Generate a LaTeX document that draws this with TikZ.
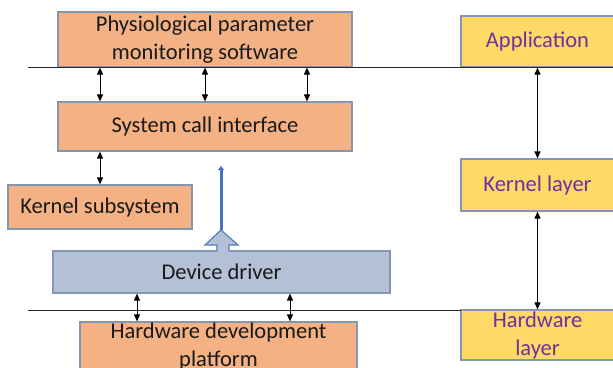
\documentclass[tikz,border=0pt]{standalone}
\usepackage{fontspec}
\setmainfont{Carlito}
\usetikzlibrary{arrows.meta}
\definecolor{ofill}{HTML}{F4B183}
\definecolor{yfill}{HTML}{FFD966}
\definecolor{bfill}{HTML}{B4C0D6}
\definecolor{bord}{HTML}{8497B0}
\definecolor{blu}{HTML}{4472C4}
\definecolor{purp}{HTML}{7030A0}
\definecolor{txt}{HTML}{1A1A1A}
\tikzset{
  box/.style={draw=bord, line width=1.2pt, inner sep=0pt, align=center, text=txt,
    font=\fontsize{22.5}{28}\selectfont},
  obox/.style={box, fill=ofill},
  ybox/.style={box, fill=yfill, text=purp},
  dbox/.style={box, fill=bfill},
  sep/.style={line width=1pt, draw=black!85},
  dbl/.style={line width=1pt, {Triangle[width=6pt,length=7pt]}-{Triangle[width=6pt,length=7pt]}},
}
\begin{document}
\begin{tikzpicture}[x=1pt,y=-1pt]
\useasboundingbox (0,0) rectangle (613,367);
% separator lines
\coordinate (l1a) at (28,67);
\coordinate (l1b) at (613,67);
\coordinate (l2a) at (28,310);
\coordinate (l2b) at (461,310);
% boxes
\node[obox, minimum width=294, minimum height=55] (phys) at (205,39.5) {Physiological parameter\\monitoring software};
\node[obox, minimum width=294, minimum height=49] (sc) at (205,126.5) {System call interface};
\node[obox, minimum width=184, minimum height=44] (ks) at (100,207) {Kernel subsystem};
\node[dbox, minimum width=337, minimum height=42] (dd) at (221.5,272) {Device driver};
\node[obox, minimum width=277, minimum height=48] (hw) at (218.5,346) {Hardware development\\platform};
\node[ybox, minimum width=153, minimum height=51] (app) at (537.5,41.5) {Application};
\node[ybox, minimum width=153, minimum height=52] (kl) at (537.5,185) {Kernel layer};
\node[ybox, minimum width=153, minimum height=50] (hl) at (537.5,335) {Hardware\\layer};
\draw[sep] (l1a) -- (l1b);
\draw[sep] (l2a) -- (l2b);
% arrow columns
\coordinate (c1) at (100,0);
\coordinate (c2) at (205,0);
\coordinate (c3) at (307,0);
\coordinate (c4) at (137,0);
\coordinate (c5) at (290,0);
\draw[dbl] (c1 |- phys.south) -- (c1 |- sc.north);
\draw[dbl] (c2 |- phys.south) -- (c2 |- sc.north);
\draw[dbl] (c3 |- phys.south) -- (c3 |- sc.north);
\draw[dbl] (c1 |- sc.south) -- (c1 |- ks.north);
\draw[dbl] (c4 |- dd.south) -- (c4 |- hw.north);
\draw[dbl] (c5 |- dd.south) -- (c5 |- hw.north);
\draw[dbl] (app.south) -- (kl.north);
\draw[dbl] (kl.south) -- (hl.north);
% block arrow out of device driver
\coordinate (tip) at (221,230);
\coordinate (top) at (221,166);
\fill[bfill] (217,252) -- (217,245) -- (205,245) -- (tip) -- (238,245) -- (229,245) -- (229,252) -- cycle;
\draw[blu!70!bord, line width=1.2pt] (217,251) -- (217,245) -- (205,245) -- (tip) -- (238,245) -- (229,245) -- (229,251);
\draw[blu, line width=3pt, -{Triangle[width=6pt,length=4pt]}] (tip) -- (top);
\end{tikzpicture}
\end{document}
